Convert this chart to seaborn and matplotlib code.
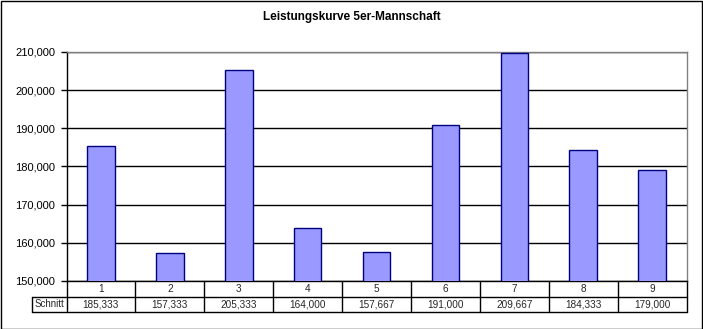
import matplotlib
matplotlib.use('Agg')
import matplotlib.pyplot as plt
import seaborn as sns
import pandas as pd
from matplotlib.lines import Line2D
from matplotlib.patches import Rectangle
from matplotlib.ticker import FuncFormatter
from matplotlib.transforms import blended_transform_factory

title = 'Leistungskurve 5er-Mannschaft'
categories = ['1', '2', '3', '4', '5', '6', '7', '8', '9']
schnitt = [185333, 157333, 205333, 164000, 157667, 191000, 209667, 184333, 179000]
table_label = 'Schnitt'
y_ticks = [150000, 160000, 170000, 180000, 190000, 200000, 210000]

sns.set_theme(style='white')
plt.rcParams['font.family'] = ['Liberation Sans', 'DejaVu Sans']

W, H = 703, 329
fig = plt.figure(figsize=(W / 100, H / 100), dpi=100)
fig.patch.set_facecolor('white')
L, R, T, B = 66.5, 686.5, 52, 281
ax = fig.add_axes([L / W, 1 - B / H, (R - L) / W, (B - T) / H])

df = pd.DataFrame({'Spiel': categories, 'Schnitt': schnitt})
sns.barplot(data=df, x='Spiel', y='Schnitt', ax=ax, color='#9999FF',
            edgecolor='#000080', linewidth=1, width=0.4, saturation=1, zorder=3)

ax.set_facecolor('white')
ax.set_xlim(-0.5, len(categories) - 0.5)
ax.set_ylim(y_ticks[0], y_ticks[-1])
ax.set_yticks(y_ticks)
ax.yaxis.set_major_formatter(FuncFormatter(lambda v, p: f'{int(v):,}'))
ax.yaxis.grid(True, color='black', linewidth=1)
ax.set_axisbelow(True)
ax.set_xticks([])
ax.set_xlabel('')
ax.set_ylabel('')
ax.tick_params(axis='y', which='major', left=True, direction='out', length=4,
               width=1, color='black', pad=4, labelsize=8, labelcolor='black')
for s in ['top', 'right']:
    ax.spines[s].set_color('#808080')
    ax.spines[s].set_linewidth(1)
for s in ['left', 'bottom']:
    ax.spines[s].set_color('black')
    ax.spines[s].set_linewidth(1)

fig.text(0.5, 1 - 17 / H, title, ha='center', va='center', fontsize=8.5,
         fontweight='bold', color='black')

# data table below the plot
ph = B - T
r1 = 15.5 / ph
r2 = 15.5 / ph
n = len(categories)
lab_left = (31.5 - L) / (R - L)
kw = dict(transform=ax.transAxes, color='black', linewidth=1, clip_on=False)
ax.add_line(Line2D([lab_left, 1], [-r1, -r1], **kw))
ax.add_line(Line2D([lab_left, 1], [-r1 - r2, -r1 - r2], **kw))
ax.add_line(Line2D([lab_left, lab_left], [-r1, -r1 - r2], **kw))
for i in range(n + 1):
    ax.add_line(Line2D([i / n, i / n], [0, -r1 - r2], **kw))

tr = blended_transform_factory(ax.transData, ax.transAxes)
for i, (c, v) in enumerate(zip(categories, schnitt)):
    ax.text(i, -r1 / 2, c, transform=tr, ha='center', va='center', fontsize=7.2)
    ax.text(i, -r1 - r2 / 2, f'{v:,}', transform=tr, ha='center', va='center', fontsize=7.2)
ax.text((lab_left + 0) / 2, -r1 - r2 / 2, table_label, transform=ax.transAxes,
        ha='center', va='center', fontsize=7.0)

fig.patches.append(Rectangle((0.5 / W, 0.5 / H), 701 / W, 327.5 / H,
                             transform=fig.transFigure, fill=False,
                             edgecolor='black', linewidth=1))

fig.savefig('out.png', dpi=100)
